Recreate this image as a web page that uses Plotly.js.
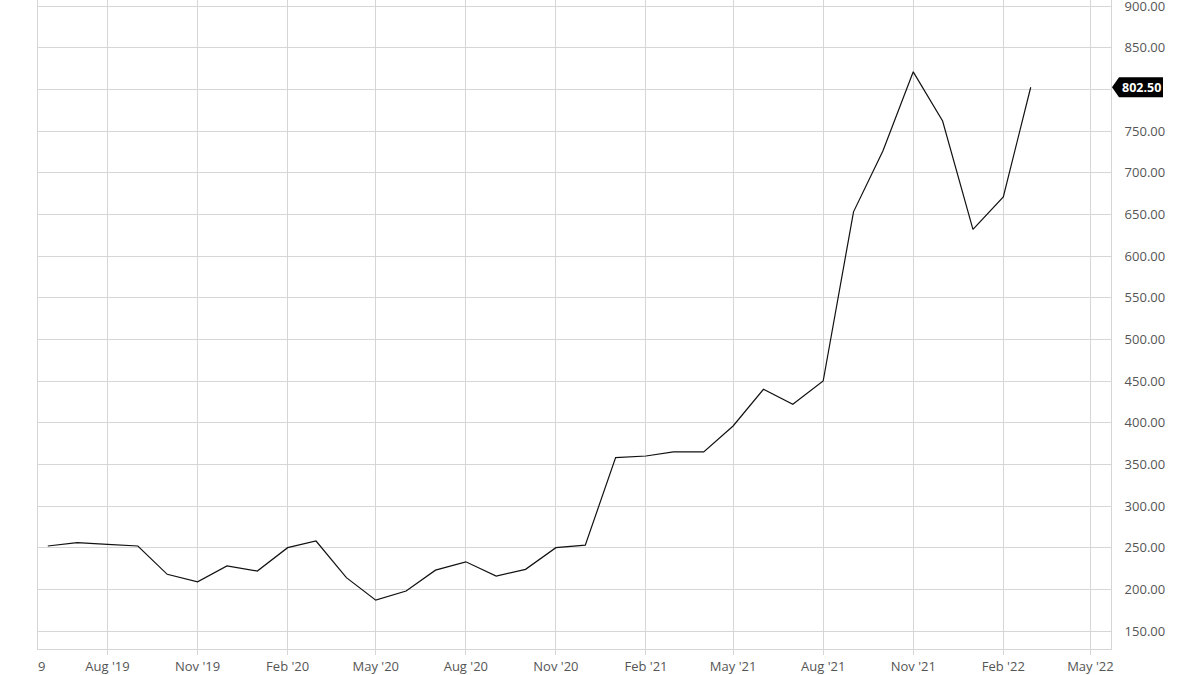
<!DOCTYPE html>
<html>
<head>
<meta charset="utf-8">
<script src="https://cdn.plot.ly/plotly-3.0.1.min.js"></script>
<style>html,body{margin:0;padding:0;background:#fff;}#chart{width:1200px;height:675px;}</style>
</head>
<body>
<div id="chart"></div>
<script>
const dates = ["2019-06-01","2019-07-01","2019-08-01","2019-09-01","2019-10-01","2019-11-01","2019-12-01",
  "2020-01-01","2020-02-01","2020-03-01","2020-04-01","2020-05-01","2020-06-01","2020-07-01","2020-08-01",
  "2020-09-01","2020-10-01","2020-11-01","2020-12-01","2021-01-01","2021-02-01","2021-03-01","2021-04-01",
  "2021-05-01","2021-06-01","2021-07-01","2021-08-01","2021-09-01","2021-10-01","2021-11-01","2021-12-01",
  "2022-01-01","2022-02-01","2022-03-01"];
const prices = [252,256,254,252,218,209,228,222,250,258,214,187,198,223,233,216,224,250,253,358,360,365,365,
  396,440,422,450,653,726,821,762,632,671,802.5];
const yTickVals = [150,200,250,300,350,400,450,500,550,600,650,700,750,800,850,900];
const lastPrice = prices[prices.length - 1];
const lastLabel = lastPrice.toFixed(2);
// the 800.00 label sits under the last-price badge in the original, so it is left blank
const yTickText = yTickVals.map(v => Math.abs(v - lastPrice) < 20 ? '' : v.toFixed(2));

const gridColor = '#d6d6d6';
const fontFam = '"Open Sans", "Noto Sans", sans-serif';

const trace = {
  x: dates, y: prices, type: 'scatter', mode: 'lines',
  line: {color: '#111', width: 1.2}, hoverinfo: 'skip'
};

const layout = {
  width: 1200, height: 675,
  margin: {l: 38, r: 89, t: 0, b: 26},
  paper_bgcolor: '#fff', plot_bgcolor: '#fff',
  showlegend: false,
  font: {family: fontFam, size: 13, color: '#555'},
  xaxis: {
    type: 'date', range: ['2019-05-22', '2022-05-22'],
    tick0: '2019-08-01', dtick: 'M3', tickformat: "%b '%y",
    showgrid: true, gridcolor: gridColor, gridwidth: 1,
    ticks: 'outside', ticklen: 5, tickcolor: gridColor,
    showline: true, linecolor: gridColor, linewidth: 1, mirror: true,
    zeroline: false, tickfont: {family: fontFam, size: 13, color: '#555'}
  },
  yaxis: {
    side: 'right', range: [128.4, 907.2],
    tickmode: 'array', tickvals: yTickVals, ticktext: yTickText,
    ticklabeloverflow: 'allow',
    showgrid: true, gridcolor: gridColor, gridwidth: 1,
    ticks: '', ticklabelstandoff: 10,
    showline: true, linecolor: gridColor, linewidth: 1, mirror: true,
    zeroline: false, tickfont: {family: fontFam, size: 13, color: '#555'}
  },
  shapes: [{
    type: 'path', xref: 'paper', yref: 'y',
    xsizemode: 'pixel', ysizemode: 'pixel', xanchor: 1, yanchor: lastPrice,
    path: 'M1,0 L8,10 L52,10 L52,-10 L8,-10 Z',
    fillcolor: '#000', line: {width: 0}, layer: 'above'
  }],
  annotations: [{
    xref: 'paper', yref: 'y', x: 1, y: lastPrice, xanchor: 'left', xshift: 9,
    text: '<b>' + lastLabel + '</b>', showarrow: false,
    font: {family: fontFam, size: 12.5, color: '#fff'}
  }, {
    xref: 'paper', yref: 'paper', x: 0, y: 0, xanchor: 'left', yanchor: 'top',
    xshift: -2, yshift: -6, text: '9', showarrow: false,
    font: {family: fontFam, size: 13, color: '#555'}
  }]
};

Plotly.newPlot('chart', [trace], layout, {displayModeBar: false, staticPlot: true});
</script>
</body>
</html>
